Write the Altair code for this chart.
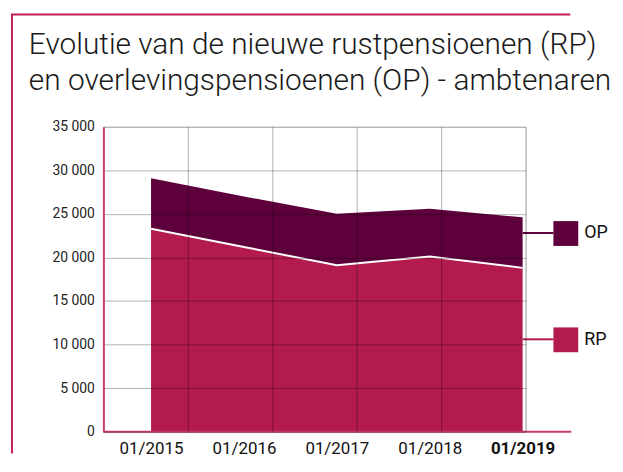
import altair as alt
import pandas as pd

# ---- data ----
years = [2015, 2016, 2017, 2018, 2019]
rp = [23300, 21200, 19100, 20100, 18800]
op = [5800, 5800, 5900, 5500, 5800]
series_order = ["OP", "RP"]
y_ticks = [0, 5000, 10000, 15000, 20000, 25000, 30000, 35000]
grid_cols = [0, 1, 2, 3, 4, 5]
title_lines = [
    "Evolutie van de nieuwe rustpensioenen (RP)",
    "en overlevingspensioenen (OP) - ambtenaren",
]

C_RP = "#b31b4f"
C_OP = "#5e003b"
C_FRAME = "#c21d58"
C_AXIS = "#cc3b70"

df = pd.DataFrame({
    "year": years * 2,
    "series": ["RP"] * len(years) + ["OP"] * len(years),
    "value": rp + op,
    "rank": [0] * len(years) + [1] * len(years),
})
rp_df = pd.DataFrame({"year": years, "value": rp})
grid_df = pd.DataFrame({"col": grid_cols})
one = pd.DataFrame({"k": [0]})

W, H = 425, 307
px_per_year = 93.5
x_dom = [2015 - 48 / px_per_year, 2019 + 3 / px_per_year]

xscale = alt.Scale(domain=x_dom, nice=False, zero=False)
yscale = alt.Scale(domain=[0, 35000], nice=False)

x_axis = alt.Axis(
    values=years, labelExpr="'01/' + datum.value", grid=False, domain=False,
    ticks=False, tickSize=0, labelFont="Roboto", labelFontSize=17, labelColor="#111",
    labelPadding=9, title=None,
    labelFontWeight={"expr": "datum.value == 2019 ? 'bold' : 'normal'"},
)
y_axis = alt.Axis(
    values=y_ticks, labelExpr="replace(format(datum.value, ','), ',', ' ')",
    grid=True, gridColor="#000", gridOpacity=0.3, gridWidth=1,
    domain=True, domainColor=C_AXIS, domainWidth=2,
    ticks=False, tickSize=0, labelFont="Roboto", labelFontSize=14, labelColor="#222",
    labelPadding=9, title=None, zindex=1,
)
legend = alt.Legend(
    orient="none", legendX=453, legendY=95, title=None, symbolType="square",
    symbolSize=625, symbolStrokeWidth=0, symbolOpacity=1, labelFont="Roboto",
    labelFontSize=18, labelColor="#111", rowPadding=82, labelOffset=6, padding=0,
)

areas = alt.Chart(df).mark_area(opacity=1).encode(
    x=alt.X("year:Q", scale=xscale, axis=x_axis),
    y=alt.Y("value:Q", stack="zero", scale=yscale, axis=y_axis),
    color=alt.Color("series:N", scale=alt.Scale(domain=series_order, range=[C_OP, C_RP]), legend=legend),
    order=alt.Order("rank:Q"),
)
sep = alt.Chart(rp_df).mark_line(color="white", strokeWidth=2).encode(
    x=alt.X("year:Q", scale=xscale, axis=x_axis),
    y=alt.Y("value:Q", scale=yscale, axis=y_axis),
)
data_layer = alt.layer(areas, sep)

grid = alt.Chart(grid_df).mark_point(opacity=0).encode(
    x=alt.X("col:Q", scale=alt.Scale(domain=[0, 5], nice=False, zero=False),
            axis=alt.Axis(orient="top", values=grid_cols, grid=True, labels=False,
                          ticks=False, domain=False, title=None, gridColor="#000",
                          gridOpacity=0.3, gridWidth=1, zindex=1)),
)

baseline = alt.Chart(one).mark_rule(color=C_AXIS, strokeWidth=2).encode(
    x=alt.value(0), x2=alt.value(471), y=alt.value(H))
frame_left = alt.Chart(one).mark_rule(color=C_FRAME, strokeWidth=2).encode(
    x=alt.value(-92), y=alt.value(-113), y2=alt.value(329))
frame_top = alt.Chart(one).mark_rule(color=C_FRAME, strokeWidth=2).encode(
    x=alt.value(-93), x2=alt.value(470), y=alt.value(-113))
conn_op = alt.Chart(one).mark_rule(color=C_OP, strokeWidth=2).encode(
    x=alt.value(422), x2=alt.value(453), y=alt.value(107))
conn_rp = alt.Chart(one).mark_rule(color=C_RP, strokeWidth=2).encode(
    x=alt.value(422), x2=alt.value(453), y=alt.value(214))

chart = alt.layer(
    data_layer, grid, baseline, frame_left, frame_top, conn_op, conn_rp
).resolve_scale(x="independent").properties(
    width=W, height=H,
    title=alt.TitleParams(
        text=title_lines, anchor="start", frame="group", dx=-75, dy=83,
        fontSize=30, font="Roboto", fontWeight=300, color="#1a1a1a",
        lineHeight=36, offset=0, baseline="top",
    ),
    padding={"left": 96, "top": 118, "right": 90, "bottom": 31},
    autosize=alt.AutoSizeParams(type="none"),
).configure_view(stroke=None).configure(background="white")

chart.save("out.html", embed_options={"renderer": "svg", "actions": False})
